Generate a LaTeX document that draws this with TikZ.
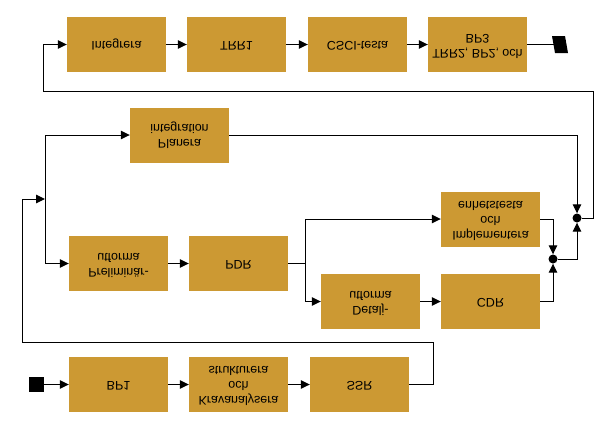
\documentclass[tikz,border=0pt]{standalone}
\usepackage{fontspec}
\usepackage{graphicx}
\setmainfont{Liberation Sans}
\usetikzlibrary{arrows.meta}
\definecolor{boxgold}{RGB}{204,153,51}
\newcommand{\fliptext}[1]{\rotatebox[origin=c]{180}{\reflectbox{\begin{tabular}{@{}c@{}}#1\end{tabular}}}}
\tikzset{
  blk/.style={fill=boxgold, draw=none, minimum width=99pt, minimum height=55pt, inner sep=0pt,
    font=\fontsize{12.5}{15}\selectfont},
  conn/.style={draw=black, line width=1pt},
  arr/.style={conn, -{Triangle[length=9pt,width=8.5pt]}},
  dotnode/.style={circle, fill=black, minimum size=9pt, inner sep=0pt},
}
\begin{document}
\begin{tikzpicture}[x=1pt,y=-1pt]
\useasboundingbox (0,0) rectangle (616,421);
% top row
\node[blk] (integ) at (116.5,44.5) {\fliptext{Integrera}};
\node[blk] (trr1) at (236.5,44.5) {\fliptext{TRR1}};
\node[blk] (csci) at (357.5,44.5) {\fliptext{CSCI-testa}};
\node[blk] (bp3) at (477.5,44.5) {\fliptext{TRR2, BP2, och\\BP3}};
% middle
\node[blk] (plan) at (179.5,135) {\fliptext{Planera\\integration}};
\node[blk] (impl) at (490.5,219) {\fliptext{Implementera\\och\\enhetstesta}};
\node[blk] (prel) at (118.5,263.5) {\fliptext{Preliminär-\\utforma}};
\node[blk] (pdr) at (238.5,263.5) {\fliptext{PDR}};
\node[blk] (detalj) at (370.5,301.5) {\fliptext{Detalj-\\utforma}};
\node[blk] (cdr) at (490.5,301.5) {\fliptext{CDR}};
% bottom
\node[blk] (bp1) at (118.5,384.5) {\fliptext{BP1}};
\node[blk] (krav) at (238.5,384.5) {\fliptext{Kravanalysera\\och\\strukturera}};
\node[blk] (ssr) at (359.5,384.5) {\fliptext{SSR}};
% markers
\node[fill=black, minimum size=15pt, inner sep=0pt] (start) at (36.5,384.5) {};
\coordinate (endm) at (554,44.5);
\fill[black] (552,36) -- (565,36) -- (568,53) -- (555,53) -- cycle;
% dots
\node[dotnode] (udot) at (577,218) {};
\node[dotnode] (ldot) at (553,259) {};
% helper coordinates
\coordinate (fr) at (593,91);
\coordinate (fl) at (43,91);
\coordinate (lj) at (45,199);
\coordinate (br) at (433,342);
\coordinate (bl) at (22,342);
\coordinate (pj) at (305,263.5);
% top row connectors
\draw[arr] (integ) -- (trr1);
\draw[arr] (trr1) -- (csci);
\draw[arr] (csci) -- (bp3);
\draw[conn] (bp3.east) -- (endm);
% feedback top
\draw[arr] (udot) -| (fr) -- (fl) |- (integ.west);
\draw[arr] (plan.east) -| (udot);
% left junction
\draw[arr] (lj) |- (plan.west);
\draw[arr] (lj) |- (prel.west);
% bottom row
\draw[arr] (start) -- (bp1);
\draw[arr] (bp1) -- (krav);
\draw[arr] (krav) -- (ssr);
\draw[arr] (ssr.east) -| (br) -- (bl) |- (lj);
% middle row
\draw[arr] (prel) -- (pdr);
\draw[conn] (pdr.east) -- (pj);
\draw[arr] (pj) |- (impl.west);
\draw[arr] (pj) |- (detalj.west);
\draw[arr] (detalj) -- (cdr);
\draw[arr] (impl.east) -| (ldot);
\draw[arr] (cdr.east) -| (ldot);
\draw[arr] (ldot) -| (udot);
\end{tikzpicture}
\end{document}
